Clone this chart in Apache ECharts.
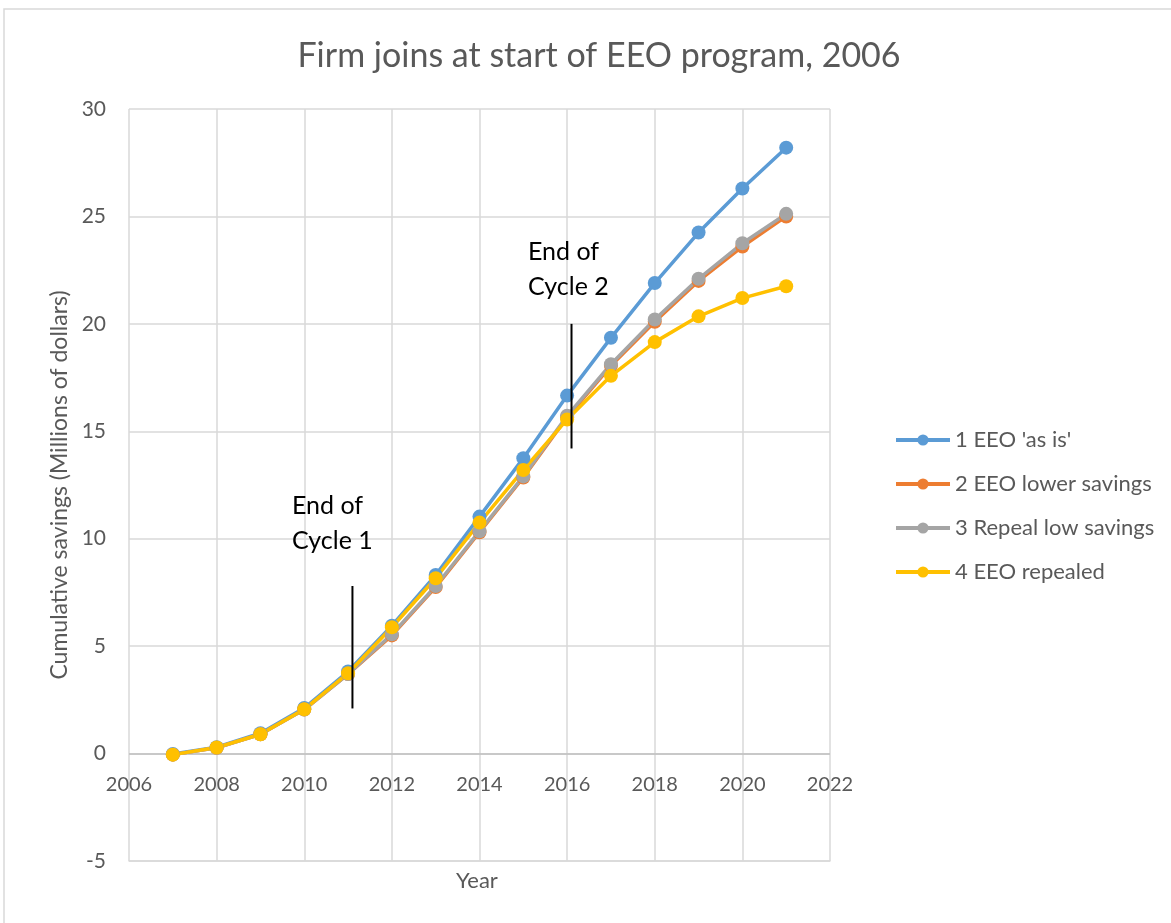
<!DOCTYPE html>
<html>
<head>
<meta charset="utf-8">
<script src="https://cdn.jsdelivr.net/npm/echarts@6/dist/echarts.min.js"></script>
<style>
    body { margin: 0; background: #ffffff; }
    #chart_1 { width: 1171px; height: 923px; }
</style>
</head>
<body>
<div id="chart_1"></div>
<script>
//*************************************************************************************************data
var years = [2007, 2008, 2009, 2010, 2011, 2012, 2013, 2014, 2015, 2016, 2017, 2018, 2019, 2020, 2021];
var as_is = [-0.02, 0.3, 0.95, 2.12, 3.82, 5.95, 8.31, 11.03, 13.75, 16.66, 19.35, 21.9, 24.25, 26.3, 28.2];
var lower_savings = [-0.05, 0.27, 0.9, 2.05, 3.7, 5.5, 7.75, 10.3, 12.85, 15.65, 18.05, 20.1, 22.0, 23.6, 25.0];
var repeal_low = [-0.05, 0.27, 0.9, 2.05, 3.7, 5.55, 7.8, 10.35, 12.9, 15.72, 18.12, 20.2, 22.1, 23.75, 25.12];
var repealed = [-0.05, 0.28, 0.9, 2.06, 3.74, 5.88, 8.16, 10.75, 13.2, 15.55, 17.58, 19.15, 20.35, 21.2, 21.75];
var series_names = ["1 EEO 'as is'", "2 EEO lower savings", "3 Repeal low savings", "4 EEO repealed"];

// the two "End of Cycle" marker lines
var cycle_1_line = [[2011.1, 2.1], [2011.1, 7.8]];
var cycle_2_line = [[2016.1, 14.2], [2016.1, 20.0]];

var x_ticks = { min: 2006, max: 2022, step: 2 };
var y_ticks = { min: -5, max: 30, step: 5 };

//*************************************************************************************************draw
var chart_1 = echarts.init(document.getElementById('chart_1'));
var font = 'Lato, "Open Sans", sans-serif';
var text_color = '#595959';
var grid_color = '#d9d9d9';
var colors = ['#5B9BD5', '#ED7D31', '#A5A5A5', '#FFC000'];

function pairs(values) {
    return years.map(function (y, i) { return [y, values[i]]; });
}

function line_series(name, values, color) {
    return {
        name: name,
        type: 'line',
        data: pairs(values),
        symbol: 'circle',
        symbolSize: 14,
        lineStyle: { color: color, width: 3.5 },
        itemStyle: { color: color },
        emphasis: { disabled: true },
        animation: false,
        z: 3
    };
}

function marker_line(points) {
    return {
        type: 'line',
        data: points,
        symbol: 'none',
        lineStyle: { color: '#000000', width: 2 },
        silent: true,
        animation: false,
        z: 5
    };
}

var series = [
    line_series(series_names[0], as_is, colors[0]),
    line_series(series_names[1], lower_savings, colors[1]),
    line_series(series_names[2], repeal_low, colors[2]),
    line_series(series_names[3], repealed, colors[3]),
    marker_line(cycle_1_line),
    marker_line(cycle_2_line)
];

// darker horizontal line at zero (the category axis line in the original)
series[0].markLine = {
    silent: true,
    symbol: 'none',
    label: { show: false },
    lineStyle: { color: '#bfbfbf', width: 1.5, type: 'solid' },
    data: [{ yAxis: 0 }],
    z: 1
};

var option = {
    textStyle: { fontFamily: font },
    title: {
        text: 'Firm joins at start of EEO program, 2006',
        left: 594,
        top: 34,
        textAlign: 'center',
        textStyle: { fontSize: 34, fontWeight: 'normal', color: text_color, fontFamily: font }
    },
    legend: {
        data: series_names,
        orient: 'vertical',
        left: 889,
        top: 424,
        itemWidth: 54,
        itemHeight: 14,
        itemGap: 22,
        lineStyle: { width: 4 },
        textStyle: { fontSize: 22, color: text_color, fontFamily: font }
    },
    grid: { left: 129, right: 341, top: 109, bottom: 62 },
    xAxis: {
        type: 'value',
        min: x_ticks.min,
        max: x_ticks.max,
        interval: x_ticks.step,
        axisLine: { onZero: false, lineStyle: { color: grid_color, width: 1.5 } },
        axisTick: { show: false },
        axisLabel: {
            fontSize: 20, color: text_color, margin: -86, fontFamily: font,
            formatter: function (v) { return String(v); }
        },
        splitLine: { show: true, lineStyle: { color: grid_color, width: 1.5 } }
    },
    yAxis: {
        type: 'value',
        min: y_ticks.min,
        max: y_ticks.max,
        interval: y_ticks.step,
        name: 'Cumulative savings (Millions of dollars)',
        nameLocation: 'middle',
        nameGap: 56,
        nameTextStyle: { fontSize: 23, color: text_color, fontFamily: font },
        axisLine: { show: false },
        axisTick: { show: false },
        axisLabel: { fontSize: 21, color: text_color, margin: 23, fontFamily: font },
        splitLine: { show: true, lineStyle: { color: grid_color, width: 1.5 } }
    },
    graphic: [
        {
            type: 'rect',
            shape: { x: 4, y: 9, width: 1180, height: 930 },
            style: { fill: 'none', stroke: grid_color, lineWidth: 1.5 },
            silent: true
        },
        {
            type: 'text', left: 292, top: 488, z: 20,
            style: { text: 'End of\nCycle 1', fontSize: 25, lineHeight: 35, fill: '#000000', fontFamily: font }
        },
        {
            type: 'text', left: 528, top: 234, z: 20,
            style: { text: 'End of\nCycle 2', fontSize: 25, lineHeight: 35, fill: '#000000', fontFamily: font }
        },
        {
            type: 'text', left: 456, top: 870, z: 20,
            style: { text: 'Year', fontSize: 22, fill: text_color, fontFamily: font }
        }
    ],
    series: series
};

chart_1.setOption(option);
</script>
</body>
</html>
